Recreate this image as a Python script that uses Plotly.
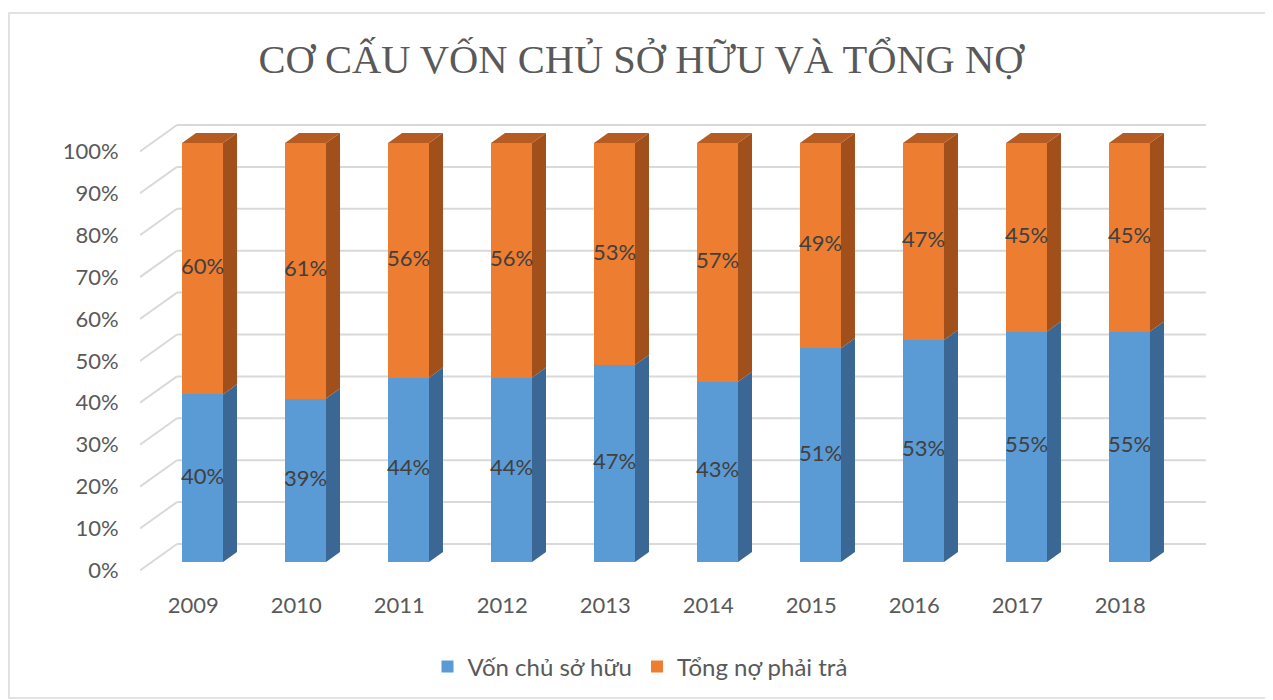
import plotly.graph_objects as go

# ---------------- data ----------------
years = ["2009", "2010", "2011", "2012", "2013", "2014", "2015", "2016", "2017", "2018"]
von_chu_so_huu = [40, 39, 44, 44, 47, 43, 51, 53, 55, 55]
tong_no = [60, 61, 56, 56, 53, 57, 49, 47, 45, 45]
y_ticks = [0, 10, 20, 30, 40, 50, 60, 70, 80, 90, 100]
y_tick_labels = [f"{v}%" for v in y_ticks]

series_names = ["Vốn chủ sở hữu", "Tổng nợ phải trả"]
title_text = "CƠ CẤU VỐN CHỦ SỞ HỮU VÀ TỔNG NỢ"

# ---------------- style ----------------
OFF = 8                                   # page body margin compensation
W, H = 1273 - OFF, 700 - OFF
L, R, T, B = 140 - OFF, 1206 - OFF, 120 - OFF, 575 - OFF   # plot area in pixels
X_RANGE = [-0.607, 9.743]
Y_RANGE = [-3.10, 105.49]
BAR_W = 0.398
DX = 0.136      # depth in x units (~14px)
DY = 2.4        # depth in y units (~10px)
BACK_DY = 4.3   # gridline back wall offset
FRONT_DY = -2.0 # side wall front offset
WALL_X = -0.248

blue, blue_side = "#5B9BD5", "#3A6794"
orange, orange_side, orange_top = "#ED7D31", "#A1501C", "#B65C22"
grid_c = "#D9D9D9"
txt_c = "#595959"
FONT = "Lato"

x = list(range(len(years)))
fig = go.Figure()

# front faces
fig.add_trace(go.Bar(x=x, y=von_chu_so_huu, name=series_names[0], marker=dict(color=blue, line=dict(width=0)),
                     width=BAR_W, hoverinfo="skip"))
fig.add_trace(go.Bar(x=x, y=tong_no, name=series_names[1], marker=dict(color=orange, line=dict(width=0)),
                     width=BAR_W, hoverinfo="skip"))

# side and top faces (3D effect)
for i, (a, b) in enumerate(zip(von_chu_so_huu, tong_no)):
    x1 = i + BAR_W / 2
    x0 = i - BAR_W / 2
    total = a + b
    fig.add_trace(go.Scatter(x=[x1, x1 + DX, x1 + DX, x1, x1], y=[0, DY, a + DY, a, 0],
                             mode="lines", fill="toself", fillcolor=blue_side, line=dict(width=0),
                             showlegend=False, hoverinfo="skip"))
    fig.add_trace(go.Scatter(x=[x1, x1 + DX, x1 + DX, x1, x1], y=[a, a + DY, total + DY, total, a],
                             mode="lines", fill="toself", fillcolor=orange_side, line=dict(width=0),
                             showlegend=False, hoverinfo="skip"))
    fig.add_trace(go.Scatter(x=[x0, x0 + DX, x1 + DX, x1, x0], y=[total, total + DY, total + DY, total, total],
                             mode="lines", fill="toself", fillcolor=orange_top, line=dict(width=0),
                             showlegend=False, hoverinfo="skip"))

# data labels
lab_x, lab_y, lab_t = [], [], []
for i, (a, b) in enumerate(zip(von_chu_so_huu, tong_no)):
    lab_x += [i, i]
    lab_y += [a / 2, a + b / 2]
    lab_t += [f"{a}%", f"{b}%"]
fig.add_trace(go.Scatter(x=lab_x, y=lab_y, text=lab_t, mode="text", textposition="middle center",
                         textfont=dict(family=FONT, size=22, color="#404040"),
                         showlegend=False, hoverinfo="skip"))

# gridlines on the back wall + side wall diagonals
shapes = []
for v in y_ticks:
    shapes.append(dict(type="line", xref="x", yref="y", x0=WALL_X, x1=X_RANGE[1], y0=v + BACK_DY, y1=v + BACK_DY,
                       line=dict(color=grid_c, width=2), layer="below"))
    shapes.append(dict(type="line", xref="x", yref="y", x0=X_RANGE[0], x1=WALL_X, y0=v + FRONT_DY, y1=v + BACK_DY,
                       line=dict(color=grid_c, width=2), layer="below"))

# chart border
pw, ph = R - L, B - T
def px2paper_x(p): return (p - OFF - L) / pw
def px2paper_y(p): return (B - (p - OFF)) / ph
shapes.append(dict(type="rect", xref="paper", yref="paper",
                   x0=px2paper_x(9), x1=px2paper_x(1270), y0=px2paper_y(13), y1=px2paper_y(698),
                   line=dict(color=grid_c, width=1.5), fillcolor="rgba(0,0,0,0)", layer="below"))

fig.update_layout(
    width=W, height=H,
    margin=dict(l=L, r=W - R, t=T, b=H - B),
    paper_bgcolor="white", plot_bgcolor="white",
    barmode="stack",
    shapes=shapes,
    title=dict(text=title_text, x=(641 - OFF) / W, xanchor="center", y=1 - (59 - OFF) / H, yanchor="middle",
               xref="container", yref="container",
               font=dict(family="Liberation Serif", size=40.5, color=txt_c)),
    xaxis=dict(range=X_RANGE, tickvals=[i - 0.09 for i in x], ticktext=years, showgrid=False, zeroline=False,
               showline=False, ticks="outside", ticklen=11, tickcolor="rgba(0,0,0,0)",
               tickfont=dict(family=FONT, size=22, color=txt_c), fixedrange=True),
    yaxis=dict(range=Y_RANGE, tickvals=[v + FRONT_DY for v in y_ticks], ticktext=y_tick_labels, showgrid=False,
               zeroline=False, showline=False, ticks="outside", ticklen=16, tickcolor="rgba(0,0,0,0)",
               tickfont=dict(family=FONT, size=22, color=txt_c), fixedrange=True),
    legend=dict(orientation="h", x=(640 - OFF) / W, xanchor="center", y=1 - (667 - OFF) / H, yanchor="middle",
                xref="container", yref="container", traceorder="normal",
                font=dict(family=FONT, size=24, color=txt_c), itemwidth=30),
    showlegend=True,
)

fig.write_html("out.html")
